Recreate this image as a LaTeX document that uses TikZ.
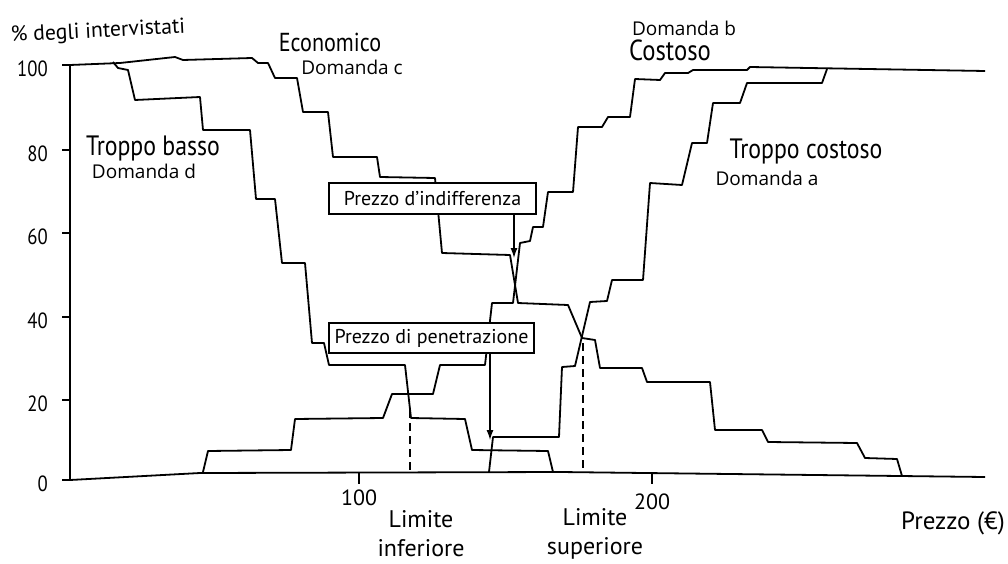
\documentclass[tikz,border=0pt]{standalone}
\usepackage{fontspec}
\setmainfont{PT Sans}
\newfontfamily\condfont{PT Sans}[FakeStretch=0.85]
\newfontfamily\domfont{Open Sans}
\usetikzlibrary{arrows.meta}

\begin{document}
\begin{tikzpicture}[
  x=1pt, y=-1pt,
  every node/.style={inner sep=0pt, align=center},
  %% --- stili ---
  curve/.style={line width=1.8pt, line join=round},
  axis/.style={line width=1.8pt},
  lbl/.style={font=\condfont\fontsize{#1}{#1}\selectfont},
  lbl/.default=24,
  dom/.style={font=\domfont\fontsize{19}{21}\selectfont},
  ticklbl/.style={font=\condfont\fontsize{22}{22}\selectfont},
  txt/.style={font=\fontsize{#1}{29}\selectfont},
  pricebox/.style={draw, fill=white, line width=1.3pt,
    minimum height=31pt, font=\fontsize{20}{20}\selectfont},
  arrow/.style={-{Latex[length=10pt,width=7pt]}, line width=1.3pt},
  limit/.style={line width=1.2pt, dash pattern=on 8pt off 5pt}
]
  \useasboundingbox (0,0) rectangle (1008,564);

  %% --- assi ---
  \draw[axis] (70,65) -- (70,480);
  \draw[axis] (70,480) -- (200,473) -- (560,472) -- (985,477);
  \foreach \v/\yy in {100/65, 80/150, 60/233, 40/317, 20/400, 0/480} {
    \draw[axis] (62,\yy) -- (70,\yy);
    \node[ticklbl, anchor=east] (yt\v) at (48,\yy+4) {\v};
  }
  \foreach \v/\xx/\yy in {100/359/498, 200/652/502} {
    \draw[axis] (\xx,472) -- (\xx,484);
    \node[txt=22] (xt\v) at (\xx,\yy) {\v};
  }
  \node[txt=21.7, rotate=3] (ylabel) at (98,32) {\% degli intervistati};
  \node[txt=25] (xlabel) at (953,523) {Prezzo (€)};

  %% --- curve ---
  % Economico (domanda c)
  \draw[curve] (70,65) -- (120,63) -- (175,57) -- (183,60) -- (252,58) -- (258,63)
    -- (268,63) -- (275,78) -- (297,78) -- (303,112) -- (328,112) -- (333,157)
    -- (377,157) -- (380,177) -- (435,178) -- (442,253) -- (510,255) -- (518,303)
    -- (568,305) -- (582,338) -- (595,340) -- (600,368) -- (642,368) -- (647,382)
    -- (710,382) -- (715,430) -- (762,430) -- (768,442) -- (857,443) -- (865,458)
    -- (897,459) -- (902,476);
  % Troppo basso (domanda d)
  \draw[curve] (113,62) -- (118,68) -- (128,70) -- (135,100) -- (200,97) -- (203,130)
    -- (250,130) -- (256,199) -- (275,199) -- (282,263) -- (305,263) -- (312,343)
    -- (324,343) -- (329,365) -- (405,365) -- (411,418) -- (465,419) -- (472,450)
    -- (548,451) -- (553,472);
  % Costoso (domanda b)
  \draw[curve] (203,472) -- (208,451) -- (291,450) -- (295,419) -- (383,418)
    -- (392,394) -- (433,394) -- (440,365) -- (485,365) -- (492,303) -- (513,303)
    -- (520,243) -- (530,241) -- (533,227) -- (543,227) -- (548,192) -- (573,192)
    -- (578,127) -- (602,127) -- (608,117) -- (630,117) -- (635,79) -- (660,80)
    -- (665,73) -- (688,73) -- (693,70) -- (747,70) -- (750,67) -- (985,71);
  % Troppo costoso (domanda a)
  \draw[curve] (489,472) -- (493,437) -- (559,437) -- (562,367) -- (575,366)
    -- (590,302) -- (607,301) -- (612,280) -- (643,280) -- (650,183) -- (682,185)
    -- (692,143) -- (707,143) -- (713,103) -- (740,103) -- (747,83) -- (822,83)
    -- (827,69);

  %% --- limiti ---
  \coordinate (inf) at (410,472);
  \coordinate (sup) at (583,472);
  \draw[limit] (410,410) -- (inf);
  \draw[limit] (583,343) -- (sup);
  \node[txt=24] (liminf) at (421,534) {Limite\\inferiore};
  \node[txt=24] (limsup) at (595,534) {Limite\\superiore};

  %% --- prezzi ---
  \node[pricebox, minimum width=207pt] (indiff) at (432.5,198.5) {Prezzo d’indifferenza};
  \node[pricebox, minimum width=205pt, minimum height=30pt] (penetr) at (431.5,338) {Prezzo di penetrazione};
  \coordinate (indpt) at (514,258);
  \coordinate (penpt) at (490,440);
  \draw[arrow] (indiff.south -| indpt) -- (indpt);
  \draw[arrow] (penetr.south -| penpt) -- (penpt);

  %% --- etichette ---
  \node[lbl=26] (econ) at (330,42) {Economico};
  \node[dom] (domc) at (352,67) {Domanda c};
  \node[dom] (domb) at (684,28) {Domanda b};
  \node[lbl=29] (cost) at (670,50) {Costoso};
  \node[lbl=28] (troppoc) at (806,152) {Troppo costoso};
  \node[dom] (doma) at (767,178) {Domanda a};
  \node[lbl=28] (troppob) at (153,149) {Troppo basso};
  \node[dom] (domd) at (144,171) {Domanda d};
\end{tikzpicture}
\end{document}
